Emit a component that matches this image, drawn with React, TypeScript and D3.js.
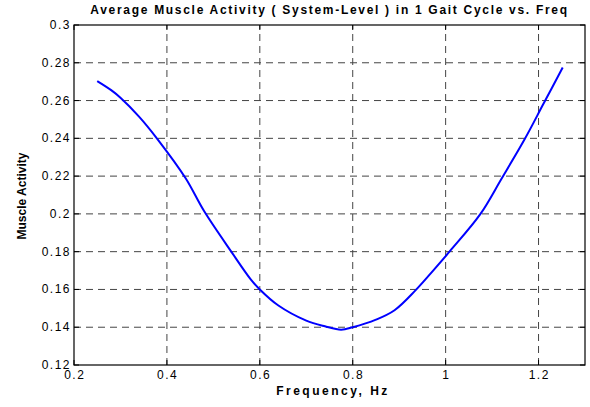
import React from "react";
import * as d3 from "d3";

const freq = [0.25, 0.28, 0.3, 0.34, 0.38, 0.44, 0.48, 0.54, 0.58, 0.6, 0.64, 0.7, 0.74, 0.775, 0.8, 0.85, 0.89, 0.935, 0.975, 1.01, 1.075, 1.12, 1.17, 1.21, 1.252];
const activity = [0.2703, 0.2655, 0.2615, 0.2515, 0.2395, 0.219, 0.2015, 0.1795, 0.1655, 0.16, 0.1515, 0.1435, 0.1405, 0.1387, 0.14, 0.144, 0.149, 0.1595, 0.1705, 0.1805, 0.2, 0.2185, 0.2395, 0.258, 0.2775];
const xTicks = [0.2, 0.4, 0.6, 0.8, 1, 1.2];
const yTicks = [0.12, 0.14, 0.16, 0.18, 0.2, 0.22, 0.24, 0.26, 0.28, 0.3];
const title = "Average Muscle Activity ( System-Level ) in 1 Gait Cycle vs. Freq";
const xLabel = "Frequency, Hz";
const yLabel = "Muscle Activity";

export default function App() {
  const W = 590, H = 407;
  const L = 74, R = 585, T = 25, B = 365;
  const x = d3.scaleLinear().domain([0.2, 1.3]).range([L, R]);
  const y = d3.scaleLinear().domain([0.12, 0.3]).range([B, T]);
  const pts = freq.map((f, i) => [f, activity[i]] as [number, number]);
  const line = d3.line<[number, number]>().x(d => x(d[0])).y(d => y(d[1])).curve(d3.curveCatmullRom.alpha(0.5));
  const font = "Liberation Sans, Arial, sans-serif";
  const fmt = (v: number) => String(+v.toFixed(2));
  return (
    <svg width={W} height={H} style={{ position: "absolute", left: 0, top: 0, background: "#fff" }} fontFamily={font}>
      <rect x={0} y={0} width={W} height={H} fill="#fff" />
      {xTicks.slice(1).map(t => (
        <line key={"gx" + t} x1={x(t)} x2={x(t)} y1={B} y2={T} stroke="#444" strokeWidth={1} strokeDasharray="7,5" />
      ))}
      {yTicks.slice(1, -1).map(t => (
        <line key={"gy" + t} x1={L} x2={R} y1={y(t)} y2={y(t)} stroke="#444" strokeWidth={1} strokeDasharray="7,5" />
      ))}
      {xTicks.map(t => (
        <g key={"tx" + t}>
          <line x1={x(t)} x2={x(t)} y1={B} y2={B - 5} stroke="#000" />
          <line x1={x(t)} x2={x(t)} y1={T} y2={T + 5} stroke="#000" />
          <text x={x(t) + 0.75} y={379} textAnchor="middle" fontSize={12} letterSpacing={1.5}>{fmt(t)}</text>
        </g>
      ))}
      {yTicks.map(t => (
        <g key={"ty" + t}>
          <line x1={L} x2={L + 5} y1={y(t)} y2={y(t)} stroke="#000" />
          <line x1={R} x2={R - 5} y1={y(t)} y2={y(t)} stroke="#000" />
          <text x={71} y={y(t) + 4} textAnchor="end" fontSize={12} letterSpacing={1.5}>{fmt(t)}</text>
        </g>
      ))}
      <rect x={L} y={T} width={R - L} height={B - T} fill="none" stroke="#000" strokeWidth={1.2} />
      <path d={line(pts) || ""} fill="none" stroke="#0000ff" strokeWidth={2} />
      <text x={(L + R) / 2} y={14} textAnchor="middle" fontSize={12} fontWeight="bold" letterSpacing={1.7}>{title}</text>
      <text x={333} y={395} textAnchor="middle" fontSize={12} fontWeight="bold" letterSpacing={2.5}>{xLabel}</text>
      <text transform={`translate(26,196) rotate(-90)`} textAnchor="middle" fontSize={12} fontWeight="bold">{yLabel}</text>
    </svg>
  );
}
